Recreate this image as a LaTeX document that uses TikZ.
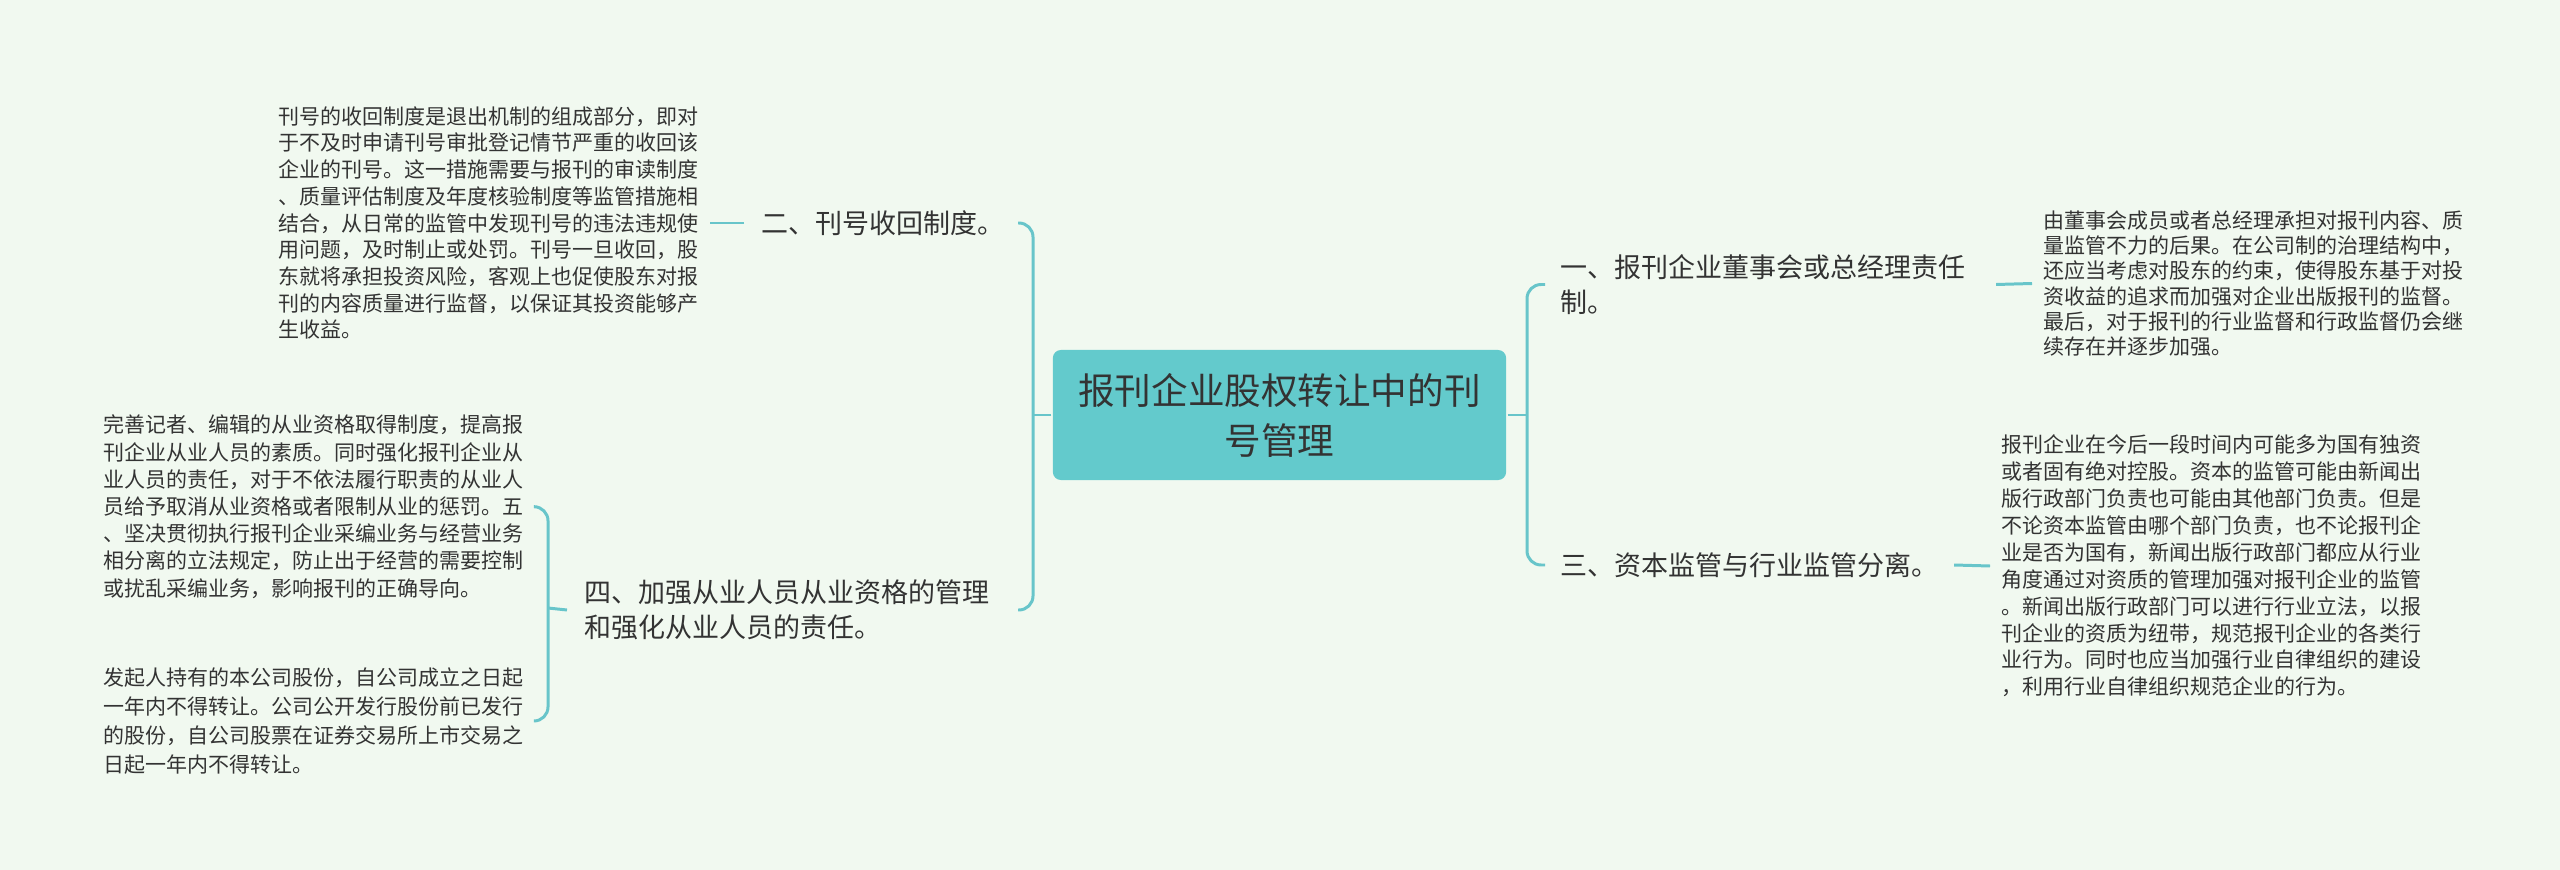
\documentclass[tikz,border=0pt]{standalone}
\usepackage{fontspec}
\setmainfont{Noto Sans CJK SC}
\usetikzlibrary{calc}
\definecolor{bgcol}{RGB}{241,249,240}
\definecolor{boxcol}{RGB}{99,202,204}
\definecolor{linecol}{RGB}{104,197,202}
\definecolor{txt}{RGB}{51,51,51}
\begin{document}
\begin{tikzpicture}[x=0.01cm,y=-0.01cm,line width=0.85pt,
  link/.style={draw=linecol,line width=0.85pt},
  branch/.style={inner sep=0pt,align=left,text=txt,font=\fontsize{7.68pt}{9.8pt}\selectfont},
  leaf/.style={inner xsep=0.1cm,inner ysep=0pt,align=left,text=txt}]
\fill[bgcol] (0,0) rectangle (2560,870);
\node[fill=boxcol,rounded corners=2.3pt,minimum width=4.53cm,minimum height=1.3cm,align=center,text=txt,font=\fontsize{10.4pt}{14.2pt}\selectfont] (root) at (1279.5,415) {报刊企业股权转让中的刊\\号管理};
\node[branch,anchor=west] (b2) at (760,223) {二、刊号收回制度。};
\node[branch,anchor=west] (b4) at (583,610) {四、加强从业人员从业资格的管理\\和强化从业人员的责任。};
\node[branch,anchor=west] (b1) at (1559,284.5) {一、报刊企业董事会或总经理责任\\制。};
\node[branch,anchor=west] (b3) at (1559,565) {三、资本监管与行业监管分离。};
\node[leaf,anchor=west,font=\fontsize{5.97pt}{7.6pt}\selectfont] (l2) at (267,223) {刊号的收回制度是退出机制的组成部分，即对\\于不及时申请刊号审批登记情节严重的收回该\\企业的刊号。这一措施需要与报刊的审读制度\\、质量评估制度及年度核验制度等监管措施相\\结合，从日常的监管中发现刊号的违法违规使\\用问题，及时制止或处罚。刊号一旦收回，股\\东就将承担投资风险，客观上也促使股东对报\\刊的内容质量进行监督，以保证其投资能够产\\生收益。};
\node[leaf,anchor=west,font=\fontsize{5.97pt}{7.74pt}\selectfont] (l4) at (92,506.7) {完善记者、编辑的从业资格取得制度，提高报\\刊企业从业人员的素质。同时强化报刊企业从\\业人员的责任，对于不依法履行职责的从业人\\员给予取消从业资格或者限制从业的惩罚。五\\、坚决贯彻执行报刊企业采编业务与经营业务\\相分离的立法规定，防止出于经营的需要控制\\或扰乱采编业务，影响报刊的正确导向。};
\node[leaf,anchor=west,font=\fontsize{5.97pt}{8.2pt}\selectfont] (l5) at (92,721) {发起人持有的本公司股份，自公司成立之日起\\一年内不得转让。公司公开发行股份前已发行\\的股份，自公司股票在证券交易所上市交易之\\日起一年内不得转让。};
\node[leaf,anchor=west,font=\fontsize{5.97pt}{7.2pt}\selectfont] (l1) at (2032,283.5) {由董事会成员或者总经理承担对报刊内容、质\\量监管不力的后果。在公司制的治理结构中，\\还应当考虑对股东的约束，使得股东基于对投\\资收益的追求而加强对企业出版报刊的监督。\\最后，对于报刊的行业监督和行政监督仍会继\\续存在并逐步加强。};
\node[leaf,anchor=west,font=\fontsize{5.97pt}{7.65pt}\selectfont] (l3) at (1990,566) {报刊企业在今后一段时间内可能多为国有独资\\或者固有绝对控股。资本的监管可能由新闻出\\版行政部门负责也可能由其他部门负责。但是\\不论资本监管由哪个部门负责，也不论报刊企\\业是否为国有，新闻出版行政部门都应从行业\\角度通过对资质的管理加强对报刊企业的监管\\。新闻出版行政部门可以进行行业立法，以报\\刊企业的资质为纽带，规范报刊企业的各类行\\业行为。同时也应当加强行业自律组织的建设\\，利用行业自律组织规范企业的行为。};
\coordinate (lj) at (1033,415);
\coordinate (rj) at (1527,415);
\coordinate (lj4) at (548,608);
\draw[link] (root.west) -- (lj);
\draw[link] (root.east) -- (rj);
\draw[link,rounded corners=4pt] ($(b2.east)+(12,0)$) -| (lj) |- ($(b4.east)+(27,0)$);
\draw[link,rounded corners=4pt] ($(b1.west)+(-14,0)$) -| (rj) |- ($(b3.west)+(-14,0)$);
\draw[link] ($(b2.west)+(-16,0)$) -- (l2.east);
\draw[link] ($(b1.east)+(29,0)$) -- (l1.west);
\draw[link] ($(b3.east)+(14,0)$) -- (l3.west);
\draw[link] ($(b4.west)+(-16,0)$) -- (lj4);
\draw[link,rounded corners=4pt] (l4.east) -| (lj4) |- (l5.east);
\end{tikzpicture}
\end{document}
